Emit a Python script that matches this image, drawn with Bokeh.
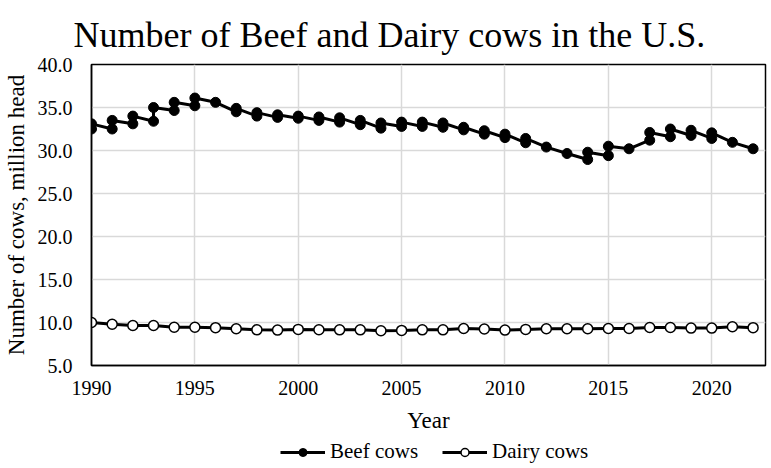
from bokeh.plotting import figure
from bokeh.layouts import column
from bokeh.models import Range1d, Legend, LegendItem, FixedTicker, NumeralTickFormatter
from bokeh.embed import file_html
from bokeh.resources import INLINE

# Beef cows: some years have two readings (lower first, then higher)
beef_years = [1990, 1990, 1991, 1991, 1992, 1992, 1993, 1993, 1994, 1994,
              1995, 1995, 1996, 1997, 1997, 1998, 1998, 1999, 1999, 2000, 2000,
              2001, 2001, 2002, 2002, 2003, 2003, 2004, 2004, 2005, 2005,
              2006, 2006, 2007, 2007, 2008, 2008, 2009, 2009, 2010, 2010,
              2011, 2011, 2012, 2013, 2014, 2014, 2015, 2015, 2016,
              2017, 2017, 2018, 2018, 2019, 2019, 2020, 2020, 2021, 2022]
beef_values = [32.5, 33.1, 32.5, 33.5, 33.1, 34.0, 33.4, 35.0, 34.65, 35.6,
               35.2, 36.1, 35.6, 34.5, 34.9, 34.0, 34.4, 33.85, 34.15, 33.75, 34.0,
               33.5, 33.9, 33.3, 33.8, 33.0, 33.5, 32.6, 33.2, 32.8, 33.3,
               32.8, 33.3, 32.7, 33.2, 32.4, 32.7, 31.9, 32.3, 31.5, 31.9,
               30.9, 31.4, 30.4, 29.65, 28.95, 29.8, 29.4, 30.5, 30.2,
               31.2, 32.1, 31.6, 32.5, 31.75, 32.35, 31.4, 32.05, 30.95, 30.2]

dairy_years = list(range(1990, 2023))
dairy_values = [10.0, 9.8, 9.65, 9.65, 9.45, 9.45, 9.4, 9.27, 9.15, 9.12,
                9.2, 9.15, 9.15, 9.15, 9.04, 9.08, 9.15, 9.15, 9.3, 9.25,
                9.12, 9.2, 9.27, 9.27, 9.27, 9.3, 9.3, 9.42, 9.42, 9.35,
                9.35, 9.5, 9.4]

x_ticks = [1990, 1995, 2000, 2005, 2010, 2015, 2020]
y_ticks = [5, 10, 15, 20, 25, 30, 35, 40]
title_text = "Number of Beef and Dairy cows in the U.S."
series_names = ["Beef cows", "Dairy cows"]

FONT = "Liberation Serif"

# main chart
p = figure(width=771, height=438,
           min_border_left=86, min_border_right=6, min_border_top=64, min_border_bottom=73,
           x_range=Range1d(1990, 2022.6), y_range=Range1d(5, 40),
           output_backend="svg", toolbar_location=None,
           title=title_text)

p.title.text_font = FONT
p.title.text_font_size = "36px"
p.title.text_font_style = "normal"
p.title.text_color = "black"
p.title.align = "left"
p.title.offset = -18
p.title.standoff = 19

p.outline_line_color = "black"
p.outline_line_width = 1.5
p.outline_line_alpha = 1.0

for ax in (p.xaxis[0], p.yaxis[0]):
    ax.axis_line_color = "black"
    ax.axis_line_width = 1.5
    ax.major_tick_line_color = None
    ax.minor_tick_line_color = None
    ax.major_tick_out = 0
    ax.major_tick_in = 0
    ax.major_label_text_font = FONT
    ax.major_label_text_font_size = "20px"
    ax.major_label_text_color = "black"
    ax.axis_label_text_font = FONT
    ax.axis_label_text_font_size = "23px"
    ax.axis_label_text_font_style = "normal"
    ax.axis_label_text_color = "black"

p.xaxis.ticker = FixedTicker(ticks=x_ticks)
p.yaxis.ticker = FixedTicker(ticks=y_ticks)
p.yaxis.formatter = NumeralTickFormatter(format="0.0")
p.xaxis.axis_label = "Year"
p.yaxis.axis_label = "Number of cows, million head"
p.xaxis.major_label_standoff = 15
p.yaxis.major_label_standoff = 19
p.xaxis.axis_label_standoff = 10
p.yaxis.axis_label_standoff = 6

p.grid.grid_line_color = "#d9d9d9"
p.grid.grid_line_width = 1.5

p.line(beef_years, beef_values, line_color="black", line_width=3)
p.scatter(beef_years, beef_values, size=10, fill_color="black", line_color="black")
p.line(dairy_years, dairy_values, line_color="black", line_width=3)
p.scatter(dairy_years, dairy_values, size=10, fill_color="white", line_color="black", line_width=1.5)

# legend strip below the chart (sample glyphs only, no data drawn)
lg = figure(width=771, height=30, x_range=Range1d(0, 1), y_range=Range1d(0, 1),
            x_axis_location=None, y_axis_location=None,
            min_border_left=0, min_border_right=0, min_border_top=0, min_border_bottom=0,
            output_backend="svg", toolbar_location=None)
lg.grid.visible = False
lg.outline_line_color = None
nan = float("nan")
bl = lg.line([nan], [nan], line_color="black", line_width=3)
bs = lg.scatter([nan], [nan], size=10, fill_color="black", line_color="black")
dl = lg.line([nan], [nan], line_color="black", line_width=3)
ds = lg.scatter([nan], [nan], size=10, fill_color="white", line_color="black", line_width=1.5)

legend = Legend(items=[LegendItem(label=series_names[0], renderers=[bl, bs]),
                       LegendItem(label=series_names[1], renderers=[dl, ds])],
                orientation="horizontal", location=(189, 4),
                glyph_width=45, label_standoff=5, spacing=24,
                label_text_font=FONT, label_text_font_size="21px", label_text_color="black",
                border_line_color=None, background_fill_alpha=0,
                padding=0, margin=0)
lg.add_layout(legend, "center")

layout = column(p, lg, spacing=0)
open("out.html", "w").write(file_html(layout, INLINE))
